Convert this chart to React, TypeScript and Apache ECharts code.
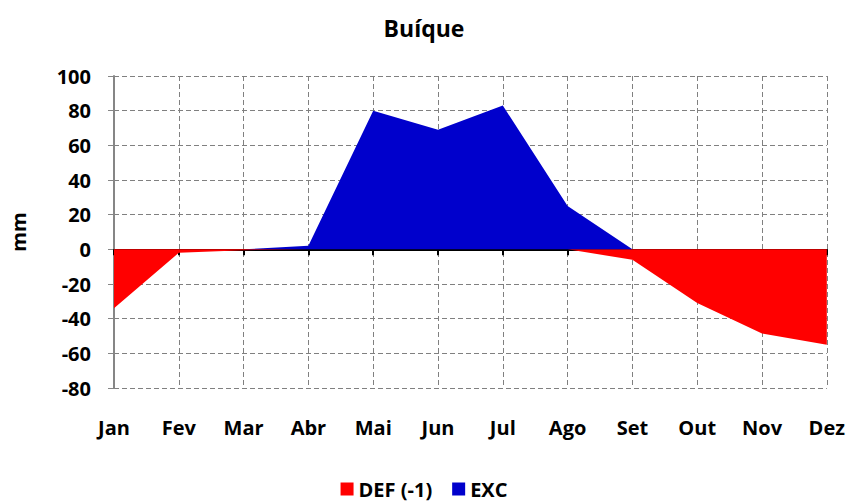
import React, { useEffect, useRef } from "react";
import * as echarts from "echarts";

const categories = ["Jan", "Fev", "Mar", "Abr", "Mai", "Jun", "Jul", "Ago", "Set", "Out", "Nov", "Dez"];
const defValues = [-34, -2, -0.5, 0, 0, 0, 0, 0, -6, -31, -48.5, -55];
const excValues = [0, 0, 0, 2, 80, 69, 83, 25, 0, 0, 0, 0];
const yTicks = { min: -80, max: 100, interval: 20 };

const FONT = "'Open Sans', 'Noto Sans', sans-serif";

export default function App() {
  const ref = useRef<HTMLDivElement>(null);
  useEffect(() => {
    if (!ref.current) return;
    const chart = echarts.init(ref.current, null, { renderer: "svg" });
    chart.setOption({
      animation: false,
      backgroundColor: "#ffffff",
      title: {
        text: "Buíque",
        left: "center",
        top: 11,
        textStyle: { fontFamily: FONT, fontWeight: "bold", fontSize: 23, color: "#000" },
      },
      legend: {
        bottom: -2,
        left: "center",
        itemWidth: 13,
        itemHeight: 13,
        itemGap: 20,
        icon: "rect",
        textStyle: { fontFamily: FONT, fontWeight: "bold", fontSize: 20, color: "#000" },
        data: ["DEF (-1)", "EXC"],
      },
      grid: { left: 113, right: 20, top: 76, bottom: 114, containLabel: false },
      xAxis: [
        {
          type: "category",
          data: categories,
          boundaryGap: false,
          position: "bottom",
          axisLine: { show: false, onZero: false },
          axisTick: { show: false },
          axisLabel: {
            margin: 29,
            fontFamily: FONT,
            fontWeight: "bold",
            fontSize: 20,
            color: "#000",
          },
          splitLine: { show: true, lineStyle: { color: "#808080", type: [5, 3], width: 1 } },
        },
        {
          type: "category",
          data: categories,
          boundaryGap: false,
          position: "bottom",
          axisLine: { show: true, onZero: true, lineStyle: { color: "#000", width: 2 } },
          axisTick: { show: true, inside: false, length: 6, lineStyle: { color: "#000", width: 2 } },
          axisLabel: { show: false },
          splitLine: { show: false },
        },
      ],
      yAxis: {
        type: "value",
        min: yTicks.min,
        max: yTicks.max,
        interval: yTicks.interval,
        name: "mm",
        nameLocation: "middle",
        nameGap: 86,
        nameTextStyle: { fontFamily: FONT, fontWeight: "bold", fontSize: 20, color: "#000" },
        axisLine: { show: true, lineStyle: { color: "#868686", width: 2 } },
        axisTick: { show: true, length: 6, lineStyle: { color: "#868686", width: 1 } },
        axisLabel: {
          margin: 23,
          fontFamily: FONT,
          fontWeight: "bold",
          fontSize: 20,
          color: "#000",
        },
        splitLine: { show: true, lineStyle: { color: "#808080", type: [5, 3], width: 1 } },
      },
      series: [
        {
          name: "DEF (-1)",
          type: "line",
          data: defValues,
          symbol: "none",
          lineStyle: { width: 0 },
          itemStyle: { color: "#FF0000" },
          areaStyle: { color: "#FF0000", opacity: 1 },
          z: 2,
        },
        {
          name: "EXC",
          type: "line",
          data: excValues,
          symbol: "none",
          lineStyle: { width: 0 },
          itemStyle: { color: "#0000CC" },
          areaStyle: { color: "#0000CC", opacity: 1 },
          z: 2,
        },
      ],
    });
    return () => chart.dispose();
  }, []);
  return (
    <div
      ref={ref}
      style={{ position: "absolute", left: 0, top: 0, width: 848, height: 502 }}
    />
  );
}
